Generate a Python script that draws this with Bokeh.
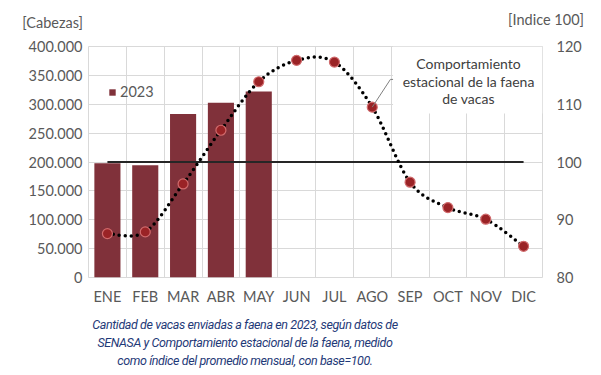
from bokeh.plotting import figure
from bokeh.layouts import column
from bokeh.models import (Range1d, LinearAxis, FixedTicker, Legend, LegendItem,
                          Label, BoxAnnotation, ColumnDataSource, Div)
from bokeh.embed import file_html
from bokeh.resources import INLINE

# ---- data ----
months = ["ENE", "FEB", "MAR", "ABR", "MAY", "JUN", "JUL", "AGO", "SEP", "OCT", "NOV", "DIC"]
faena_2023 = [198000, 194500, 283000, 302500, 322000]
indice_estacional = [87.6, 87.9, 96.2, 105.5, 113.9, 117.6, 117.3, 109.5, 96.5, 92.1, 90.1, 85.4]
base_100 = [100] * 12
left_ticks = [0, 50000, 100000, 150000, 200000, 250000, 300000, 350000, 400000]
right_ticks = [80, 90, 100, 110, 120]
caption = ["Cantidad de vacas enviadas a faena en 2023, según datos de",
           "SENASA y Comportamiento estacional de la faena, medido",
           "como índice del promedio mensual, con base=100."]

FONT = "Lato"
GRAY = "#595959"
BAR = "#80313A"

xs = [i + 0.5 for i in range(len(months))]

p = figure(frame_width=454, frame_height=231, output_backend="svg", toolbar_location=None,
           x_range=Range1d(0, 12), y_range=Range1d(0, 400000),
           min_border_left=88, min_border_top=16, min_border_right=48, min_border_bottom=39,
           margin=0)
p.extra_y_ranges = {"idx": Range1d(80, 120)}
p.outline_line_color = "#D9D9D9"
p.background_fill_color = "white"
p.border_fill_color = "white"

# grid
p.xgrid.ticker = FixedTicker(ticks=list(range(13)))
p.ygrid.ticker = FixedTicker(ticks=left_ticks)
for g in (p.xgrid[0], p.ygrid[0]):
    g.grid_line_color = "#D9D9D9"
    g.grid_line_width = 1

# axes
xa = p.xaxis[0]
xa.ticker = FixedTicker(ticks=xs)
xa.major_label_overrides = {x: m for x, m in zip(xs, months)}
ya = p.yaxis[0]
ya.ticker = FixedTicker(ticks=left_ticks)
ya.major_label_overrides = {t: (f"{t:,}".replace(",", ".")) for t in left_ticks}
ra = LinearAxis(y_range_name="idx", ticker=FixedTicker(ticks=right_ticks))
p.add_layout(ra, "right")
for ax, standoff in ((xa, 10), (ya, 6), (ra, 14)):
    ax.axis_line_color = None
    ax.major_tick_line_color = None
    ax.minor_tick_line_color = None
    ax.major_tick_out = 0
    ax.major_tick_in = 0
    ax.major_label_standoff = standoff
    ax.major_label_text_font = FONT
    ax.major_label_text_font_size = "14.5px"
    ax.major_label_text_color = GRAY

# bars
bar_src = ColumnDataSource(dict(x=xs[:len(faena_2023)], top=faena_2023))
bars = p.vbar(x="x", top="top", width=0.69, source=bar_src, fill_color=BAR, line_color=None)

# base line 100
p.line(xs, base_100, y_range_name="idx", line_color="#262626", line_width=2)

# smoothed dotted seasonal curve (cubic bezier segments, Catmull-Rom style)
n = len(indice_estacional)
px = xs
py = indice_estacional
x0, y0, x1, y1, cx0, cy0, cx1, cy1 = [], [], [], [], [], [], [], []
for i in range(n - 1):
    im1 = max(i - 1, 0)
    ip2 = min(i + 2, n - 1)
    x0.append(px[i]); y0.append(py[i]); x1.append(px[i + 1]); y1.append(py[i + 1])
    cx0.append(px[i] + (px[i + 1] - px[im1]) / 6)
    cy0.append(py[i] + (py[i + 1] - py[im1]) / 6)
    cx1.append(px[i + 1] - (px[ip2] - px[i]) / 6)
    cy1.append(py[i + 1] - (py[ip2] - py[i]) / 6)
p.bezier(x0=x0, y0=y0, x1=x1, y1=y1, cx0=cx0, cy0=cy0, cx1=cx1, cy1=cy1,
         y_range_name="idx", line_color="black", line_width=3.5,
         line_dash="0 6", line_cap="round")

# markers
p.scatter(xs, indice_estacional, y_range_name="idx", size=10,
          fill_color="#9A2326", line_color="#D06A6C", line_width=1.2)

# callout box + leader line
p.add_layout(BoxAnnotation(left=8.05, right=12, bottom=284000, top=400000,
                           fill_color="white", fill_alpha=1, line_color=None))
p.line([xs[7], 7.98, 8.15], [indice_estacional[7], 114.3, 114.3], y_range_name="idx",
       line_color="#7F7F7F", line_width=1)
for txt, yy in (("Comportamiento", 214), ("estacional de la faena", 196), ("de vacas", 179)):
    p.add_layout(Label(x=380, y=yy, x_units="screen", y_units="screen", text=txt,
                       text_font=FONT, text_font_size="14px", text_color="#404040",
                       text_align="center", text_baseline="middle"))

# legend
leg = Legend(items=[LegendItem(label="2023", renderers=[bars])], location=(20, 177),
             padding=0, margin=0, spacing=0, label_height=14, glyph_height=8, glyph_width=8,
             label_standoff=4, border_line_color=None, background_fill_alpha=0,
             label_text_font=FONT, label_text_font_size="14.5px", label_text_color=GRAY)
p.add_layout(leg, "center")

# axis titles (header) and caption (footer)
header = Div(width=590, height=30, margin=0, text=(
    '<div style="position:relative;width:590px;height:30px;'
    'font-family:Lato;font-size:14.5px;line-height:16px;color:#595959;">'
    '<div style="position:absolute;left:0;top:15px;width:83px;text-align:right;'
    'white-space:nowrap;">[Cabezas]</div>'
    '<div style="position:absolute;left:480px;top:12px;width:104px;text-align:right;'
    'white-space:nowrap;">[Indice 100]</div>'
    '</div>'))
footer = Div(width=490, height=56, margin=0, text=(
    '<div style="width:490px;text-align:center;font-family:Roboto,sans-serif;'
    'font-style:italic;font-size:12.5px;letter-spacing:-0.4px;line-height:18px;'
    'color:#1F3A78;">' + "<br>".join(caption) + '</div>'))

layout = column(header, p, footer, spacing=0, margin=0)
open("out.html", "w").write(file_html(layout, INLINE))
